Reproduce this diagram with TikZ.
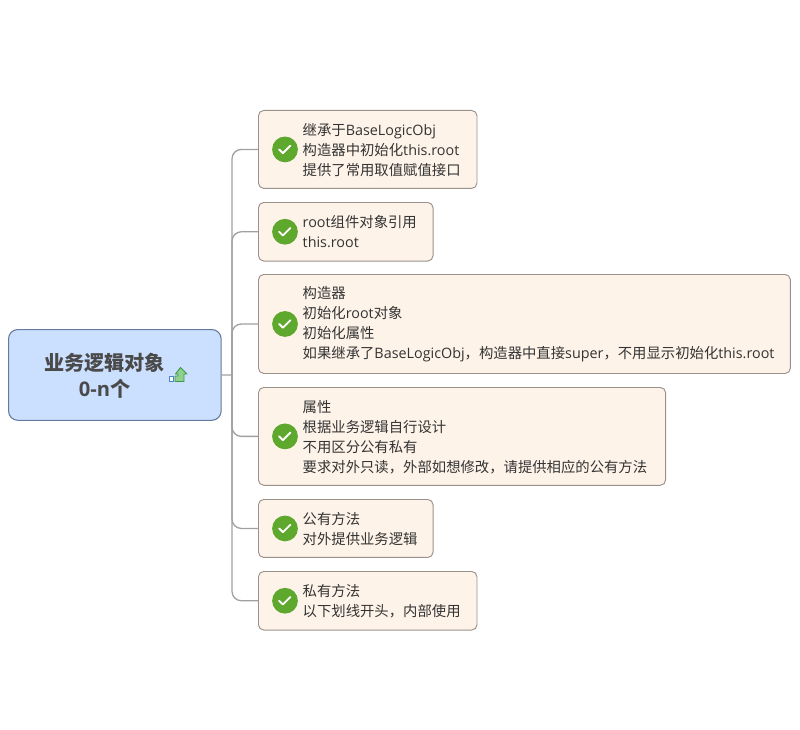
\documentclass[tikz,border=0pt]{standalone}
\usepackage{fontspec}
\setmainfont{Open Sans}
\newfontfamily\cjk{Noto Sans CJK SC}
\usetikzlibrary{calc}
\definecolor{rootfill}{HTML}{CBDFFF}
\definecolor{rootline}{HTML}{64799B}
\definecolor{leaffill}{HTML}{FEF3E9}
\definecolor{leafline}{HTML}{9A918A}
\definecolor{conn}{HTML}{A0A0A0}
\definecolor{checkgreen}{HTML}{5FA82E}
\definecolor{labeltext}{HTML}{333333}
\definecolor{roottext}{HTML}{4A4A4A}
\definecolor{iconblue}{HTML}{4A86C8}
\definecolor{icongreen}{HTML}{3F9A4A}
\definecolor{iconfill}{HTML}{8FD08F}
\tikzset{
  leaf/.style={draw=leafline,fill=leaffill,line width=0.8pt,rounded corners=4.5pt,anchor=north west,inner sep=0pt},
  leaftext/.style={anchor=west,align=left,inner sep=0pt,text=labeltext,font=\fontsize{12.25}{17}\selectfont},
  branch/.style={draw=conn,line width=1.1pt,rounded corners=8pt},
  okmark/.style={circle,fill=checkgreen,minimum size=22pt,inner sep=0pt,
    path picture={\draw[white,line width=1.6pt,line cap=round,line join=round]
      ([shift={(-5pt,0pt)}]path picture bounding box.center) -- ++(3.2pt,-3.2pt) -- ++(6.4pt,6.4pt);}},
}
\begin{document}
\begin{tikzpicture}[x=0.03cm,y=-0.03cm]
\useasboundingbox[fill=white] (0,0) rectangle (800,730);
% root
\node[draw=rootline,fill=rootfill,line width=0.9pt,rounded corners=8pt,anchor=north west,minimum width=181.5pt,minimum height=77.5pt,inner sep=0pt] (root) at (8,329) {};
\node[align=center,inner sep=0pt,text=roottext,font=\fontsize{17.2}{22}\selectfont\bfseries] (roottitle) at (104.5,375.5) {{\cjk 业务逻辑对象}\\0-n{\cjk 个}};
% leaves
\node[leaf,minimum width=186.5pt,minimum height=66.5pt] (b1) at (258,110) {};
\node[leaf,minimum width=149pt,minimum height=50pt] (b2) at (258,202) {};
\node[leaf,minimum width=454pt,minimum height=84.5pt] (b3) at (258,274) {};
\node[leaf,minimum width=347.5pt,minimum height=83.5pt] (b4) at (258,387) {};
\node[leaf,minimum width=149pt,minimum height=49.5pt] (b5) at (258,499) {};
\node[leaf,minimum width=186.5pt,minimum height=50pt] (b6) at (258,571) {};
% connectors
\coordinate (j) at (232,375);
\draw[branch] (root.east) -- (j);
\foreach \n in {b1,b2,b3,b4,b5,b6}{
  \draw[branch] (j) |- (\n.west);
  \node[okmark] (ok\n) at ($(\n.west)+(27,0)$) {};
}
% labels
\node[leaftext] (t1) at (302.5,150) {{\cjk 继承于}BaseLogicObj\\{\cjk 构造器中初始化}this.root\\{\cjk 提供了常用取值赋值接口}};
\node[leaftext] (t2) at (302.5,232) {root{\cjk 组件对象引用}\\this.root};
\node[leaftext] (t3) at (302.5,324.5) {{\cjk 构造器}\\{\cjk 初始化}root{\cjk 对象}\\{\cjk 初始化属性}\\{\cjk 如果继承了}BaseLogicObj{\cjk ，构造器中直接}super{\cjk ，不用显示初始化}this.root};
\node[leaftext] (t4) at (302.5,437) {{\cjk 属性}\\{\cjk 根据业务逻辑自行设计}\\{\cjk 不用区分公有私有}\\{\cjk 要求对外只读，外部如想修改，请提供相应的公有方法}};
\node[leaftext] (t5) at (302.5,529) {{\cjk 公有方法}\\{\cjk 对外提供业务逻辑}};
\node[leaftext] (t6) at (302.5,601.5) {{\cjk 私有方法}\\{\cjk 以下划线开头，内部使用}};
% small icon on the root
\draw[draw=iconblue,fill=white,line width=1pt] (169.5,376.5) rectangle (173.5,381.5);
\draw[draw=icongreen,fill=iconfill,line width=0.8pt,line join=round] (175,381.5) -- (175,376) -- (178,376) -- (178,374) -- (175.5,374) -- (180.5,367.5) -- (187,374) -- (184,374) -- (184,381.5) -- cycle;
\end{tikzpicture}
\end{document}
